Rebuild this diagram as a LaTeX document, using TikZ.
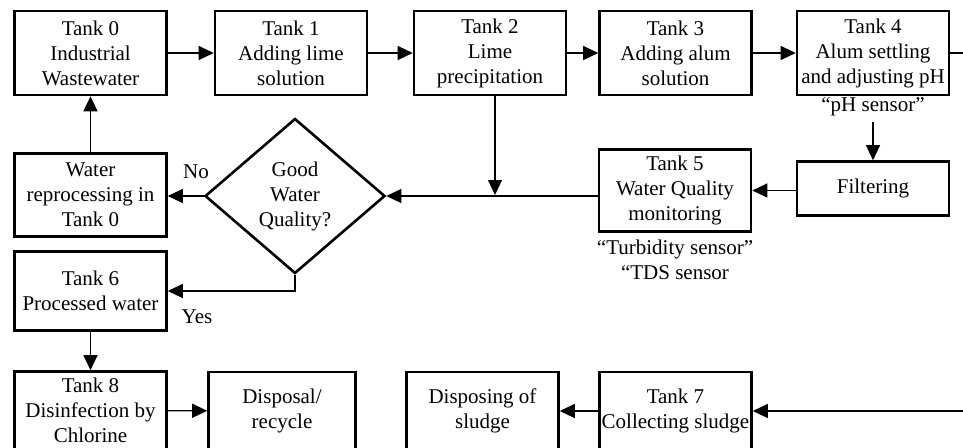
\documentclass[tikz,border=0pt]{standalone}
\usepackage{fontspec}
\setmainfont{Liberation Serif}
\usetikzlibrary{arrows.meta,shapes.geometric}
\begin{document}
\begin{tikzpicture}[x=1pt,y=-1pt,
  txt/.style={font=\fontsize{21}{25}\selectfont},
  box/.style={txt,draw,line width=2.6pt,rectangle,align=center,inner sep=0pt,minimum width=152pt},
  dec/.style={txt,draw,line width=2.6pt,diamond,align=center,inner sep=0pt,minimum width=180pt,minimum height=155pt},
  lbl/.style={txt,inner sep=0pt,align=center},
  arr/.style={line width=1.2pt,-{Triangle[length=15pt,width=14pt]}},
  ln/.style={line width=1.2pt}]
\useasboundingbox (0,0) rectangle (963,447);
% top row
\node[box,minimum height=84pt] (t0) at (90.5,53) {Tank 0\\Industrial\\Wastewater};
\node[box,minimum height=84pt] (t1) at (291,53) {Tank 1\\Adding lime\\solution};
\node[box,minimum height=84pt] (t2) at (490,53) {Tank 2\\Lime\\precipitation};
\node[box,minimum height=84pt] (t3) at (675.5,53) {Tank 3\\Adding alum\\solution};
\node[box,minimum height=84pt] (t4) at (873,53) {Tank 4\\Alum settling\\and adjusting pH};
\node[lbl] (ph) at (873,107) {“pH sensor”};
% middle
\node[box,minimum height=54pt] (filt) at (873,188.5) {Filtering};
\node[box,minimum height=82pt] (t5) at (675,190.5) {Tank 5\\Water Quality\\monitoring};
\node[lbl] (sens) at (675,260) {“Turbidity sensor”\\“TDS sensor};
\node[dec] (dq) at (295,196) {Good\\Water\\Quality?};
\node[box,minimum height=83pt] (wr) at (90.5,195) {Water\\reprocessing in\\Tank 0};
\node[lbl] (no) at (196,172) {No};
\node[box,minimum height=79pt] (t6) at (90.5,291) {Tank 6\\Processed water};
\node[lbl] (yes) at (197,317) {Yes};
% bottom row
\node[box,minimum height=78pt] (t8) at (90.5,410.5) {Tank 8\\Disinfection by\\Chlorine};
\node[box,minimum height=78pt,minimum width=147pt] (dr) at (282,411) {Disposal/\\recycle};
\node[box,minimum height=78pt] (ds) at (482.5,411) {Disposing of\\sludge};
\node[box,minimum height=78pt] (t7) at (675.5,411) {Tank 7\\Collecting sludge};
\coordinate (e1) at (963,53);
\coordinate (e2) at (963,411);
% connectors
\draw[arr] (t0) -- (t1);
\draw[arr] (t1) -- (t2);
\draw[arr] (t2) -- (t3);
\draw[arr] (t3) -- (t4);
\draw[ln] (t4.east) -- (e1);
\draw[arr] ([yshift=-6pt]ph.south) -- (filt.north);
\draw[arr] (filt.west |- t5.east) -- (t5.east);
\draw[ln] (t5.west |- dq.east) -- ([xshift=5pt]t2.south |- dq.east);
\draw[arr] ([xshift=5pt]t2.south |- dq.east) -- (dq.east);
\draw[arr] ([xshift=5pt]t2.south) -- ([xshift=5pt,yshift=1pt]t2.south |- dq.east);
\draw[arr] (dq.west) -- (dq.west -| wr.east);
\draw[arr] (wr) -- (t0);
\draw[arr] (dq.south) |- (t6.east);
\draw[arr] (t6) -- (t8);
\draw[arr] (t8) -- (dr);
\draw[arr] (e2) -- (t7.east);
\draw[arr] (t7) -- (ds);
\end{tikzpicture}
\end{document}
